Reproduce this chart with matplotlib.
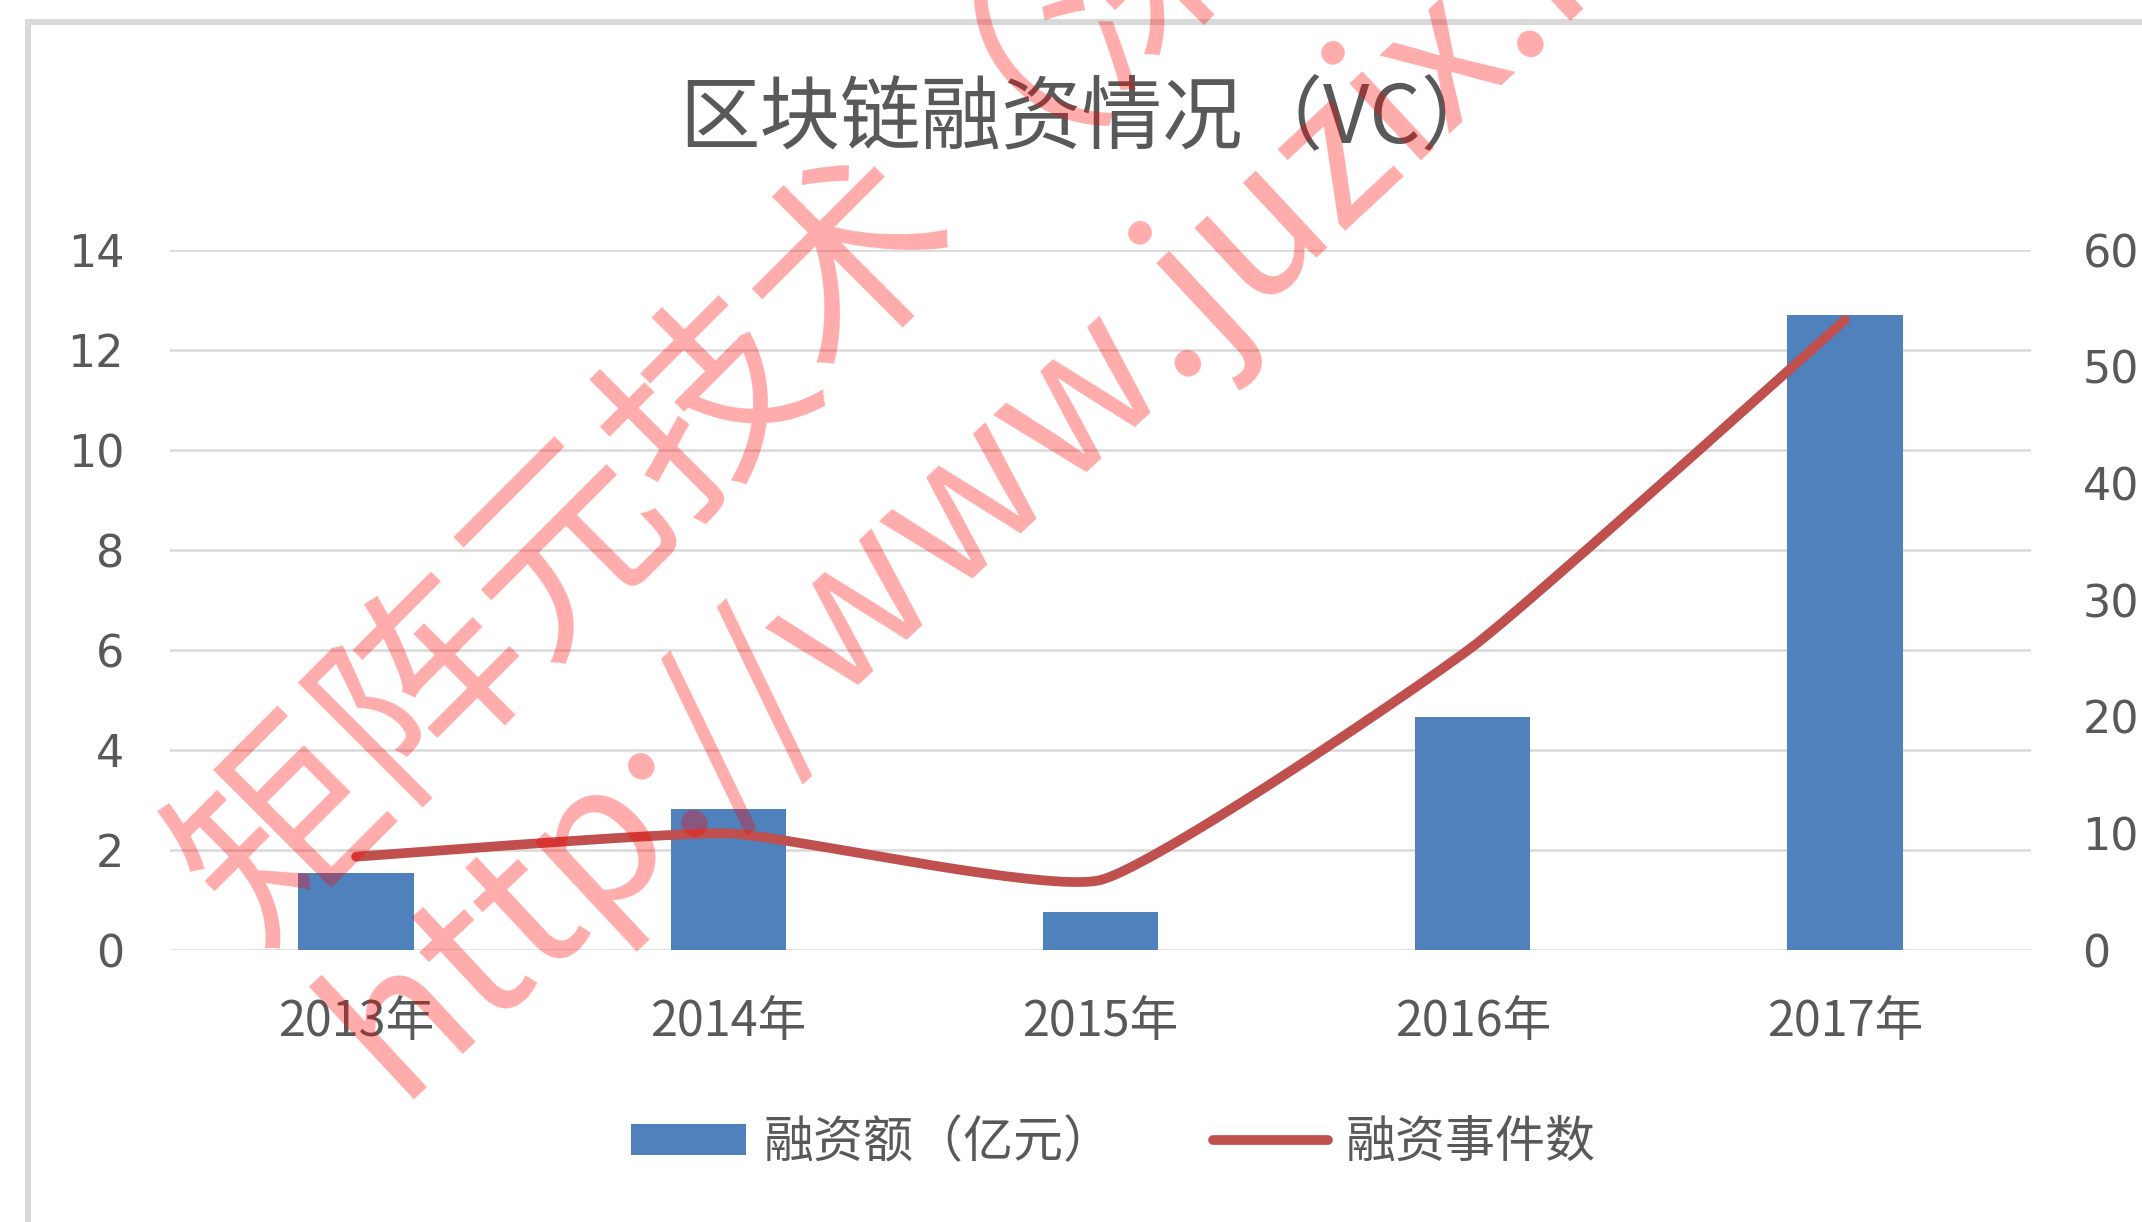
import numpy as np
import matplotlib
matplotlib.use("Agg")
import matplotlib.pyplot as plt
from matplotlib.patches import Rectangle

# data
years = ["2013年", "2014年", "2015年", "2016年", "2017年"]
amount = [1.55, 2.82, 0.76, 4.66, 12.7]      # 融资额（亿元）, left axis
events = [8, 10, 6, 26, 54]                  # 融资事件数, right axis
left_ticks = [0, 2, 4, 6, 8, 10, 12, 14]
right_ticks = [0, 10, 20, 30, 40, 50, 60]

title = "区块链融资情况（VC）"
bar_label = "融资额（亿元）"
line_label = "融资事件数"
wm_line1 = "矩阵元技术（深圳）有限公司"
wm_line2 = "http://www.juzix.net"

BLUE = "#4F81BD"
RED = "#C0504D"
GRID = "#D9D9D9"
TXT = "#595959"
CJK = ["Noto Sans CJK SC", "DejaVu Sans"]


def smooth(xs, ys, k=0.22, n=40):
    # gentle excel-like smoothing: cubic hermite with damped tangents
    xs = np.asarray(xs, float)
    ys = np.asarray(ys, float)
    px = np.concatenate([[xs[0]], xs, [xs[-1]]])
    py = np.concatenate([[ys[0]], ys, [ys[-1]]])
    t = np.linspace(0, 1, n)
    h00 = 2 * t ** 3 - 3 * t ** 2 + 1
    h10 = t ** 3 - 2 * t ** 2 + t
    h01 = -2 * t ** 3 + 3 * t ** 2
    h11 = t ** 3 - t ** 2
    ox, oy = [], []
    for i in range(1, len(px) - 2):
        for p, out in ((px, ox), (py, oy)):
            m1 = k * (p[i + 1] - p[i - 1])
            m2 = k * (p[i + 2] - p[i])
            out.extend(h00 * p[i] + h10 * m1 + h01 * p[i + 1] + h11 * m2)
    return ox, oy


fig = plt.figure(figsize=(21.42, 12.22), dpi=100)
ax = fig.add_axes([170 / 2142, 1 - 950 / 1222, (2031 - 170) / 2142, 700 / 1222])
ax2 = ax.twinx()

x = np.arange(len(years))
ax.bar(x, amount, width=0.31, color=BLUE, zorder=2, label=bar_label)
sx, sy = smooth(x, events)
ax2.plot(sx, sy, color=RED, lw=7, solid_capstyle="round", zorder=3, label=line_label)

ax.set_xlim(-0.5, len(years) - 0.5)
ax.set_ylim(0, 14)
ax2.set_ylim(0, 60)
ax.set_yticks(left_ticks)
ax2.set_yticks(right_ticks)
ax.set_xticks(x)
ax.set_xticklabels(years, family=CJK, fontsize=35, color=TXT)
ax.yaxis.grid(True, color=GRID, lw=1.8, zorder=0)
ax.set_axisbelow(True)
ax.tick_params(axis="x", length=0, pad=34)
ax.tick_params(axis="y", length=0, pad=33, labelsize=32, labelcolor=TXT)
ax2.tick_params(axis="y", length=0, pad=37, labelsize=32, labelcolor=TXT)
for a in (ax, ax2):
    for s in a.spines.values():
        s.set_visible(False)
ax.set_zorder(ax2.get_zorder() - 1)
ax.patch.set_visible(False)

fig.text(1090 / 2142, 1 - 120 / 1222, title, family=CJK, fontsize=58,
         weight="light", color=TXT, ha="center", va="center")

h1, l1 = ax.get_legend_handles_labels()
h2, l2 = ax2.get_legend_handles_labels()
fig.legend(h1 + h2, l1 + l2, loc="center", bbox_to_anchor=(1113 / 2142, 1 - 1143 / 1222),
           ncol=2, frameon=False, prop={"family": CJK, "size": 36, "weight": "light"},
           labelcolor=TXT, handlelength=2.3, handleheight=0.58,
           handletextpad=0.35, columnspacing=2.0)

# chart frame
fig.patches.append(Rectangle((28 / 2142, -0.2), 2, 1.2 - 22 / 1222, fill=False,
                             ec=GRID, lw=4.3, transform=fig.transFigure))

# watermark
fig.text(215 / 2142, 1 - 905 / 1222, wm_line1, family=CJK, fontsize=145,
         color="red", alpha=0.33, rotation=45, rotation_mode="anchor",
         ha="left", va="center", zorder=10)
fig.text(360 / 2142, 1 - 1060 / 1222, wm_line2, family=CJK, fontsize=140,
         color="red", alpha=0.33, rotation=43, rotation_mode="anchor",
         ha="left", va="center", zorder=10)

fig.savefig("out.png", dpi=100)
